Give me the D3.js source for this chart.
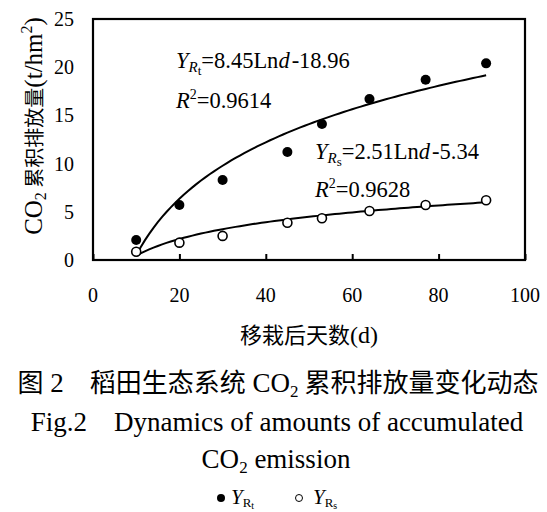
<!DOCTYPE html>
<html>
<head>
<meta charset="utf-8">
<script src="https://cdn.jsdelivr.net/npm/d3@7.9.0/dist/d3.min.js"></script>
<style>
  html, body { margin: 0; padding: 0; background: #fff; }
  svg { display: block; }
</style>
</head>
<body>
<svg id="chart" width="547" height="512"></svg>
<script>
// days after transplanting
const days = [10, 20, 30, 45, 53, 64, 77, 91];
// accumulated CO2, total (R_t) and soil (R_s), t/hm2
const seriesRt = [2.07, 5.7, 8.3, 11.2, 14.1, 16.7, 18.7, 20.4];
const seriesRs = [0.86, 1.8, 2.5, 3.87, 4.33, 5.08, 5.7, 6.2];
// log trendlines y = a*ln(d) + b, as printed on the chart
const fitRt = [8.45, -18.96];
const fitRs = [2.51, -5.34];
const xTicks = [0, 20, 40, 60, 80, 100];
const yTicks = [0, 5, 10, 15, 20, 25];

const SERIF = 'Liberation Serif';
const CJK = 'Noto Sans CJK SC';

const svg = d3.select('#chart');
const x = d3.scaleLinear().domain([0, 100]).range([93, 525]);
const y = d3.scaleLinear().domain([0, 25]).range([260, 19]);

function txt(parent, size) {
    return parent.append('text').attr('font-family', SERIF).attr('font-size', size).attr('fill', '#000');
}

// trendlines, evaluated over the data range day by day
function trend(fit) {
    const pts = d3.range(days[0], days[days.length - 1] + 0.5, 1);
    return pts.map((d) => [d, fit[0] * Math.log(d) + fit[1]]);
}
const line = d3.line().x((d) => x(d[0])).y((d) => y(d[1]));

[fitRt, fitRs].forEach((fit) => {
    svg.append('path')
        .attr('d', line(trend(fit)))
        .attr('fill', 'none')
        .attr('stroke', '#000')
        .attr('stroke-width', 2);
});

// markers
svg.append('g').selectAll('circle')
    .data(days)
    .join('circle')
    .attr('cx', (d) => x(d))
    .attr('cy', (d, i) => y(seriesRt[i]))
    .attr('r', 5)
    .attr('fill', '#000');

svg.append('g').selectAll('circle')
    .data(days)
    .join('circle')
    .attr('cx', (d) => x(d))
    .attr('cy', (d, i) => y(seriesRs[i]))
    .attr('r', 4.5)
    .attr('fill', '#fff')
    .attr('stroke', '#000')
    .attr('stroke-width', 1.6);

// x axis: inward ticks, labels below
const xAxis = svg.append('g').attr('transform', `translate(0,${y(0)})`)
    .call(d3.axisBottom(x).tickValues(xTicks).tickSize(-6).tickFormat(''));
xAxis.select('.domain').remove();
xAxis.selectAll('line').attr('stroke', '#000').attr('stroke-width', 2);

xTicks.forEach((d) => {
    txt(svg, 20).attr('x', x(d)).attr('y', 302).attr('text-anchor', 'middle').text(d);
});
yTicks.forEach((d) => {
    txt(svg, 20).attr('x', 74).attr('y', y(d)).attr('dy', '0.35em').attr('text-anchor', 'end').text(d);
});

// plot frame
svg.append('rect')
    .attr('x', x(0))
    .attr('y', y(25))
    .attr('width', x(100) - x(0))
    .attr('height', y(0) - y(25))
    .attr('fill', 'none')
    .attr('stroke', '#000')
    .attr('stroke-width', 2.2);

// equations
function equation(x0, y0, sub, body) {
    const t = txt(svg, 22.5).attr('x', x0).attr('y', y0);
    t.append('tspan').attr('font-style', 'italic').text('Y');
    t.append('tspan').attr('font-style', 'italic').attr('font-size', 15).attr('dy', 4).text('R');
    t.append('tspan').attr('font-size', 13).attr('dy', 3).text(sub);
    t.append('tspan').attr('dy', -7).text(body[0]);
    t.append('tspan').attr('font-style', 'italic').text('d');
    t.append('tspan').attr('dx', 2).text(body[1]);
}
function rSquared(x0, y0, val) {
    const t = txt(svg, 22.5).attr('x', x0).attr('y', y0);
    t.append('tspan').attr('font-style', 'italic').text('R');
    t.append('tspan').attr('font-size', 14).attr('dy', -9).text('2');
    t.append('tspan').attr('dy', 9).text('=' + val);
}
equation(176, 68, 't', ['=8.45Ln', '-18.96']);
rSquared(176, 108, '0.9614');
equation(315, 159, 's', ['=2.51Ln', '-5.34']);
rSquared(315, 197, '0.9628');

// y axis title
const yt = txt(svg, 25)
    .attr('transform', 'translate(42,126) rotate(-90)')
    .attr('text-anchor', 'middle');
yt.append('tspan').text('CO');
yt.append('tspan').attr('font-size', 16).attr('dy', 4).text('2');
yt.append('tspan').attr('font-family', CJK).attr('dy', -4).attr('font-size', 20).text(' 累积排放量');
yt.append('tspan').text('(t/hm');
yt.append('tspan').attr('font-size', 16).attr('dy', -10).text('2');
yt.append('tspan').attr('dy', 10).text(')');

// x axis title
const xt = txt(svg, 24).attr('x', 309).attr('y', 343).attr('text-anchor', 'middle');
xt.append('tspan').attr('font-family', CJK).attr('font-size', 22).text('移栽后天数');
xt.append('tspan').text('(d)');

// caption
const c1 = txt(svg, 27).attr('x', 278).attr('y', 392).attr('text-anchor', 'middle');
c1.append('tspan').attr('font-family', CJK).attr('font-size', 26).text('图');
c1.append('tspan').text(' 2');
c1.append('tspan').attr('font-family', CJK).attr('font-size', 26).text('\u3000稻田生态系统');
c1.append('tspan').text(' CO');
c1.append('tspan').attr('font-size', 17).attr('dy', 5).text('2');
c1.append('tspan').attr('font-family', CJK).attr('font-size', 26).attr('dy', -5).text(' 累积排放量变化动态');

txt(svg, 27)
    .attr('x', 277)
    .attr('y', 431)
    .attr('text-anchor', 'middle')
    .style('white-space', 'pre')
    .text('Fig.2    Dynamics of amounts of accumulated');

const c3 = txt(svg, 27).attr('x', 276).attr('y', 468).attr('text-anchor', 'middle');
c3.append('tspan').text('CO');
c3.append('tspan').attr('font-size', 17).attr('dy', 5).text('2');
c3.append('tspan').attr('dy', -5).text(' emission');

// legend
const legendItems = [
    { sub: 't', filled: true, cx: 221, tx: 231 },
    { sub: 's', filled: false, cx: 299, tx: 313 },
];
legendItems.forEach((item) => {
    svg.append('circle')
        .attr('cx', item.cx)
        .attr('cy', 498)
        .attr('r', item.filled ? 4 : 3.5)
        .attr('fill', item.filled ? '#000' : '#fff')
        .attr('stroke', '#000')
        .attr('stroke-width', item.filled ? 0 : 1);
    const t = txt(svg, 21).attr('x', item.tx).attr('y', 504);
    t.append('tspan').attr('font-style', 'italic').text('Y');
    t.append('tspan').attr('font-size', 13).attr('dy', 3).text('R');
    t.append('tspan').attr('font-size', 10).attr('dy', 2).text(item.sub);
});
</script>
</body>
</html>
